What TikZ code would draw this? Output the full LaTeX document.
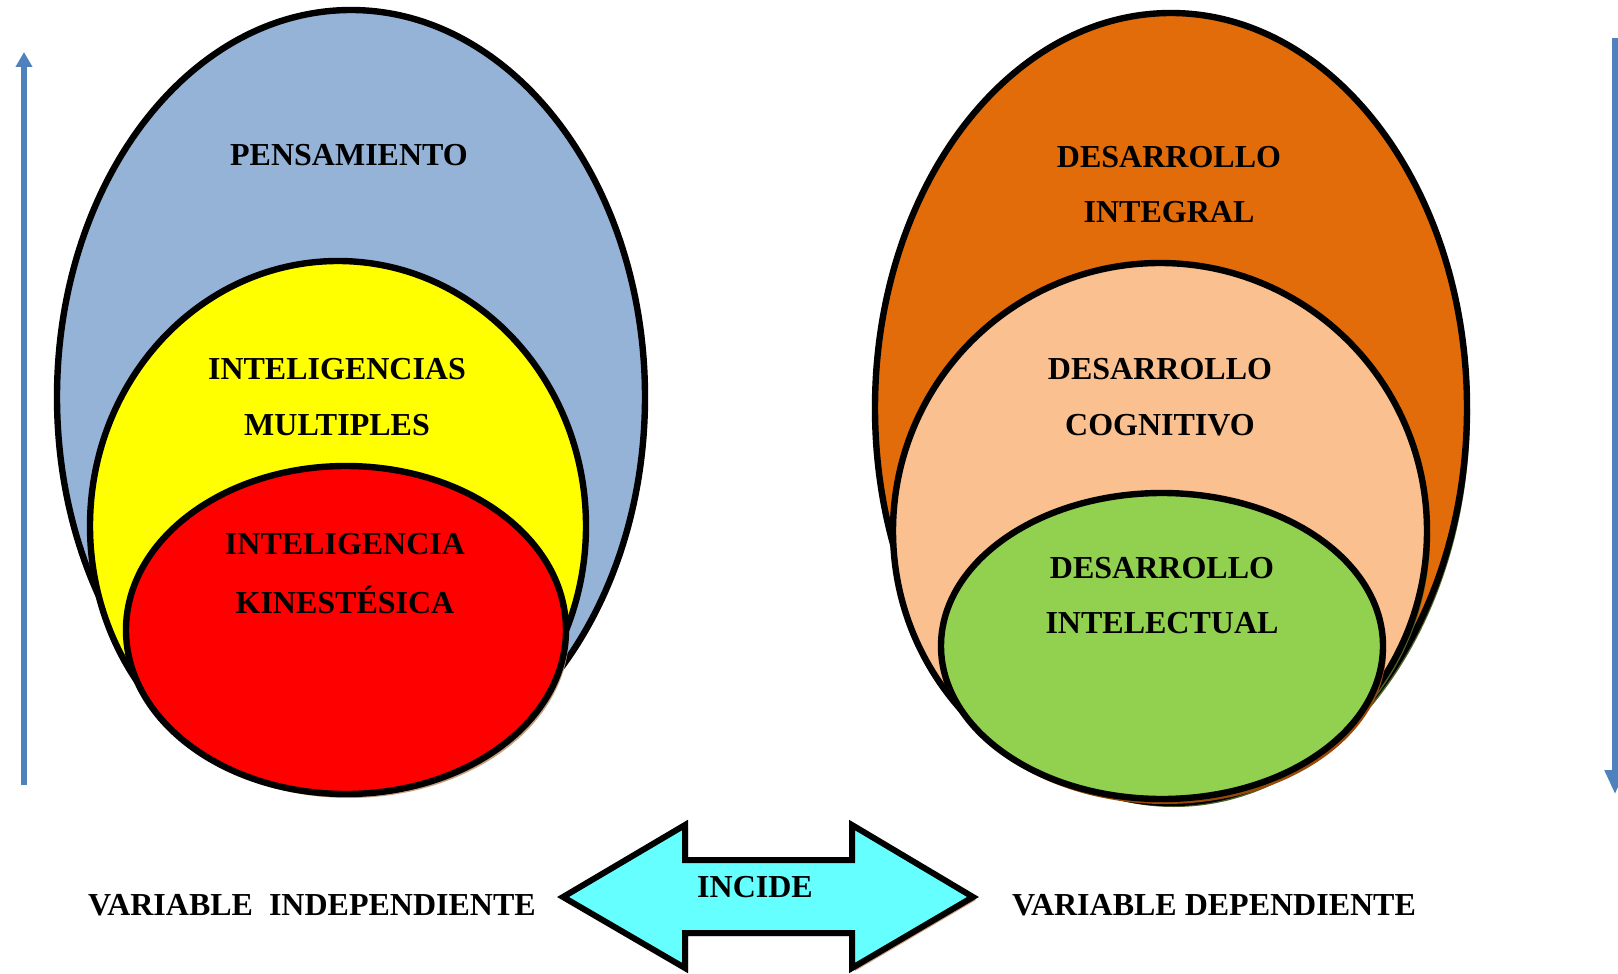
\documentclass[tikz,border=0pt]{standalone}
\usepackage{fontspec}
\setmainfont{Liberation Serif}
\usetikzlibrary{shapes.geometric,arrows.meta}
\definecolor{pblue}{HTML}{95B3D7}
\definecolor{pyellow}{HTML}{FFFF00}
\definecolor{pred}{HTML}{FF0000}
\definecolor{porange}{HTML}{E36C0A}
\definecolor{ppeach}{HTML}{FAC090}
\definecolor{pgreen}{HTML}{92D050}
\definecolor{pcyan}{HTML}{66FFFF}
\definecolor{parrow}{HTML}{4F81BD}
\definecolor{ptan}{HTML}{C8A080}
\definecolor{pbrown}{HTML}{984807}
\definecolor{polive}{HTML}{4F6228}
\tikzset{
  oval/.style={ellipse, draw=black, line width=3.2pt, inner sep=0pt},
  shad/.style={ellipse, inner sep=0pt, draw=none},
  lbl/.style={font=\fontsize{16}{19}\selectfont\bfseries, text=black, inner sep=0pt},
  varrow/.style={draw=parrow, line width=2.6pt},
}
\begin{document}
\begin{tikzpicture}[x=0.5pt,y=-0.5pt]
\clip (0,0) rectangle (1618,974);
\fill[white] (0,0) rectangle (1618,974);

% left ellipses
\node[shad, fill=ptan, minimum width=294pt, minimum height=387pt] at (353,400) {};
\node[oval, fill=pblue, minimum width=294pt, minimum height=387pt] (pens) at (351,397) {};
\node[shad, fill=ptan, minimum width=248pt, minimum height=265pt] at (340,529) {};
\node[oval, fill=pyellow, minimum width=248pt, minimum height=265pt] (intm) at (338,526) {};
\node[shad, fill=ptan, minimum width=220pt, minimum height=164pt] at (349,634) {};
\node[oval, fill=pred, minimum width=220pt, minimum height=164pt] (intk) at (346,630) {};

% right ellipses
\node[shad, fill=polive, minimum width=296pt, minimum height=395pt] at (1174,412) {};
\node[oval, fill=porange, minimum width=296pt, minimum height=395pt] (dint) at (1171,408) {};
\node[shad, fill=polive, minimum width=267pt, minimum height=268pt] at (1163,535) {};
\node[oval, fill=ppeach, minimum width=267pt, minimum height=268pt] (dcog) at (1160,531) {};
\node[shad, fill=pbrown, minimum width=221pt, minimum height=153pt] at (1165,651) {};
\node[oval, fill=pgreen, minimum width=221pt, minimum height=153pt] (dintel) at (1162,646) {};

% labels
\node[lbl] (t1) at (349,155) {PENSAMIENTO};
\node[lbl] (t2) at (337,369) {INTELIGENCIAS};
\node[lbl] (t3) at (337,425) {MULTIPLES};
\node[lbl] (t4) at (345,544) {INTELIGENCIA};
\node[lbl] (t5) at (345,600) {KINESTÉSICA};
\node[lbl] (t6) at (1169,157) {DESARROLLO};
\node[lbl] (t7) at (1169,212) {INTEGRAL};
\node[lbl] (t8) at (1160,369) {DESARROLLO};
\node[lbl] (t9) at (1160,425) {COGNITIVO};
\node[lbl] (t10) at (1162,568) {DESARROLLO};
\node[lbl] (t11) at (1162,623) {INTELECTUAL};

% double arrow
\fill[ptan] (566,900) -- (688,828) -- (688,863) -- (855,863) -- (855,828) -- (976,900)
  -- (855,971) -- (855,936) -- (688,936) -- (688,971) -- cycle;
\draw[line width=3pt, fill=pcyan, line join=miter] (563,897) -- (685,825) -- (685,860) -- (852,860) -- (852,825) -- (973,897)
  -- (852,968) -- (852,933) -- (685,933) -- (685,968) -- cycle;
\node[lbl] (inc) at (755,887) {INCIDE};

\node[lbl] (vi) at (312,905) {VARIABLE \ INDEPENDIENTE};
\node[lbl] (vd) at (1214,905) {VARIABLE DEPENDIENTE};

% vertical arrows
\coordinate (la1) at (24,785);
\coordinate (la2) at (24,52);
\draw[varrow, -{Triangle[width=8pt,length=7.5pt]}] (la1) -- (la2);
\coordinate (ra1) at (1615,38);
\coordinate (ra2) at (1615,794);
\draw[varrow, -{Triangle[width=10pt,length=12pt]}] (ra1) -- (ra2);
\end{tikzpicture}
\end{document}
